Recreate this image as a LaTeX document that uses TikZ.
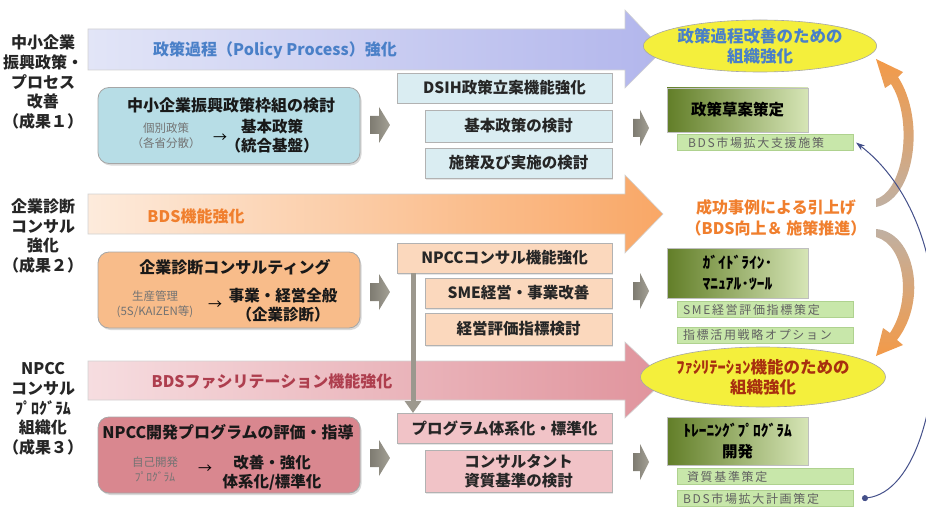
\documentclass[tikz,border=0pt]{standalone}
\usepackage{fontspec}
\setmainfont{Noto Sans CJK JP}
\usetikzlibrary{shapes.geometric,arrows.meta,shadows}
\definecolor{arAl}{HTML}{E2E5F7}
\definecolor{arAr}{HTML}{B2B6EC}
\definecolor{arBl}{HTML}{FDEBDC}
\definecolor{arBr}{HTML}{F9A766}
\definecolor{arCl}{HTML}{F6DDE0}
\definecolor{arCr}{HTML}{E0939C}
\definecolor{txA}{HTML}{4A80C8}
\definecolor{txB}{HTML}{F07F2E}
\definecolor{txC}{HTML}{AE3E4E}
\definecolor{boxA}{HTML}{B7DDE6}
\definecolor{boxB}{HTML}{F8BC8A}
\definecolor{boxC}{HTML}{D9878F}
\definecolor{midA}{HTML}{DAEDF2}
\definecolor{midB}{HTML}{FBD8BD}
\definecolor{midC}{HTML}{F1C3C7}
\definecolor{grD}{HTML}{627E28}
\definecolor{grL}{HTML}{D6E5B6}
\definecolor{barG}{HTML}{C8E7AA}
\definecolor{barE}{HTML}{AFD28F}
\definecolor{yel}{HTML}{F4EF3C}
\definecolor{grayA}{HTML}{7E7B71}
\definecolor{grayB}{HTML}{A3A095}
\definecolor{conn}{HTML}{9C988E}
\definecolor{orng}{HTML}{F39A48}
\definecolor{orgr}{HTML}{C0B0A2}
\definecolor{bluel}{HTML}{44508A}
\definecolor{elred}{HTML}{A8300F}
\begin{document}
\begin{tikzpicture}[x=1pt,y=-1pt,
  every node/.style={inner sep=0pt,outer sep=0pt},
  side/.style={font=\bfseries\fontsize{16}{19.8}\selectfont,text=black!85,align=center},
  band/.style={font=\bfseries\fontsize{16}{20}\selectfont},
  lbox/.style={rounded corners=11pt,draw=black!35,line width=0.8pt,minimum width=262pt,minimum height=76pt,
    drop shadow={shadow xshift=1.5pt,shadow yshift=-2pt,opacity=0.3}},
  ttl/.style={font=\bfseries\fontsize{16}{20}\selectfont,text=black!90},
  sm/.style={font=\fontsize{11.5}{15}\selectfont,text=black!55,align=center},
  big/.style={font=\bfseries\fontsize{15.5}{19}\selectfont,text=black!90,align=center},
  mbox/.style={draw=black!30,line width=0.6pt,minimum height=30pt,font=\bfseries\fontsize{15.5}{19}\selectfont,
    text=black!85,align=center,drop shadow={shadow xshift=1pt,shadow yshift=-1.5pt,opacity=0.2}},
  gbox/.style={draw=black!25,line width=0.6pt,left color=grD,right color=grL,minimum width=141pt,
    font=\bfseries\fontsize{15.5}{21}\selectfont,text=black,align=center},
  bar/.style={draw=barE,line width=0.5pt,fill=barG,minimum width=176pt,minimum height=16pt},
  bartx/.style={font=\fontsize{12}{14}\selectfont\addfontfeature{LetterSpace=14},text=black!62,anchor=west},
  ell/.style={ellipse,draw=black!35,line width=0.6pt,fill=yel,font=\bfseries\fontsize{16.5}{20}\selectfont,align=center},
  connline/.style={line width=5pt,draw=conn,-{Triangle[length=12pt,width=16pt]}},
  ]
\useasboundingbox (0,0) rectangle (926,508);
% side labels
\node[side] (s1) at (43,82) {中小企業\\振興政策・\\プロセス\\改善\\（成果１）};
\node[side] (s2) at (43,236) {企業診断\\コンサル\\強化\\（成果２）};
\node[side] (s3) at (43,409) {NPCC\\コンサル\\ﾌﾟﾛｸﾞﾗﾑ\\組織化\\（成果３）};
% big arrows
\shade[left color=arAl,right color=arAr,draw=black!18,line width=0.6pt]
  (88,29) -- (625,29) -- (625,10) -- (663,50) -- (625,88) -- (625,70) -- (88,70) -- cycle;
\shade[left color=arBl,right color=arBr,draw=black!18,line width=0.6pt]
  (88,194) -- (625,194) -- (625,175) -- (663,214) -- (625,253) -- (625,234) -- (88,234) -- cycle;
\shade[left color=arCl,right color=arCr,draw=black!18,line width=0.6pt]
  (88,361) -- (625,361) -- (625,342) -- (665,380) -- (625,418) -- (625,400) -- (88,400) -- cycle;
\node[band,text=txA] (t1) at (275,50) {政策過程（Policy Process）強化};
\node[band,text=txB] (t2) at (196,216) {BDS機能強化};
\node[band,text=txC] (t3) at (272,381) {BDSファシリテーション機能強化};
% left rounded boxes
\node[lbox,fill=boxA] (b1) at (229,125.5) {};
\node[ttl] (b1t) at (231,105) {中小企業振興政策枠組の検討};
\node[sm] (b1s) at (166,135.5) {個別政策\\（各省分散）};
\node[font=\fontsize{14}{14}\selectfont] (b1a) at (220,138) {→};
\node[big] (b1b) at (272,136.5) {基本政策\\（統合基盤）};
\node[lbox,fill=boxB] (b2) at (229,290) {};
\node[ttl] (b2t) at (235,267) {企業診断コンサルティング};
\node[sm] (b2s) at (155,304.5) {生産管理\\(5S/KAIZEN等)};
\node[font=\fontsize{14}{14}\selectfont] (b2a) at (215,305) {→};
\node[big] (b2b) at (283,305) {事業・経営全般\\（企業診断）};
\node[lbox,fill=boxC] (b3) at (229,455) {};
\node[ttl] (b3t) at (228,432) {NPCC開発プログラムの評価・指導};
\node[sm] (b3s) at (155,469.5) {自己開発\\ﾌﾟﾛｸﾞﾗﾑ};
\node[font=\fontsize{14}{14}\selectfont] (b3a) at (205,469) {→};
\node[big] (b3b) at (272,472.5) {改善・強化\\体系化/標準化};
% gray block arrows
\foreach \yc in {125,292,458} {
  \shade[left color=grayA,right color=grayB]
    (370,\yc-9) -- (379,\yc-9) -- (379,\yc-18) -- (390,\yc) -- (379,\yc+18) -- (379,\yc+9) -- (370,\yc+9) -- cycle;
}
\foreach \yc in {128,291,462} {
  \shade[left color=grayA,right color=grayB]
    (633,\yc-9) -- (640,\yc-9) -- (640,\yc-18) -- (649,\yc) -- (640,\yc+18) -- (640,\yc+9) -- (633,\yc+9) -- cycle;
}
% middle boxes
\node[mbox,fill=midA,minimum width=215pt] (m1) at (504.5,88) {DSIH政策立案機能強化};
\node[mbox,fill=midA,minimum width=187pt,minimum height=32pt] (m2) at (518.5,126) {基本政策の検討};
\node[mbox,fill=midA,minimum width=187pt] (m3) at (518.5,163) {施策及び実施の検討};
\node[mbox,fill=midB,minimum width=215pt] (n1) at (504.5,258) {NPCCコンサル機能強化};
\node[mbox,fill=midB,minimum width=187pt] (n2) at (518.5,293) {SME経営・事業改善};
\node[mbox,fill=midB,minimum width=187pt,minimum height=32pt] (n3) at (518.5,329) {経営評価指標検討};
\node[mbox,fill=midC,minimum width=215pt] (p1) at (504.5,428) {プログラム体系化・標準化};
\node[mbox,fill=midC,minimum width=187pt,minimum height=42pt] (p2) at (518.5,471) {コンサルタント\\資質基準の検討};
\draw[connline] ([xshift=16pt]n1.south west) -- ([xshift=16pt]p1.north west);
% right column
\node[ell,minimum width=194pt,minimum height=52pt,text=txA] (e1) at (760,46) {政策過程改善のための\\組織強化};
\node[gbox,minimum height=44pt] (g1) at (737.5,110) {政策草案策定};
\node[bar] (r1) at (765,142.5) {};
\node[bartx] (r1t) at ([xshift=11pt]r1.west) {BDS市場拡大支援施策};
\node[font=\bfseries\fontsize{16}{21}\selectfont,text=txB,align=center] (mid) at (776,217.5) {成功事例による引上げ\\（BDS向上＆ 施策推進）};
\node[gbox,minimum height=50pt] (g2) at (737.5,273) {ｶﾞｲﾄﾞﾗｲﾝ･\\ﾏﾆｭｱﾙ･ﾂｰﾙ};
\node[bar] (r2) at (765,309.5) {};
\node[bartx] (r2t) at ([xshift=6pt]r2.west) {SME経営評価指標策定};
\node[bar] (r3) at (765,335) {};
\node[bartx] (r3t) at ([xshift=6pt]r3.west) {指標活用戦略オプション};
\node[ell,minimum width=183pt,minimum height=60pt,text=elred] (e2) at (763,377) {ﾌｧｼﾘﾃｰｼｮﾝ機能のための\\組織強化};
\node[gbox,minimum height=48pt] (g3) at (737.5,441) {ﾄﾚｰﾆﾝｸﾞﾌﾟﾛｸﾞﾗﾑ\\開発};
\node[bar] (r4) at (765,476.5) {};
\node[bartx] (r4t) at ([xshift=10pt]r4.west) {資質基準策定};
\node[bar] (r5) at (765,498.5) {};
\node[bartx] (r5t) at ([xshift=6pt]r5.west) {BDS市場拡大計画策定};
% curved orange arrows
\shade[top color=orng,bottom color=orgr]
  (876,207) .. controls (915,200) and (926,120) .. (898,77) -- (903,72) -- (876,59) -- (885,88) -- (891,84)
  .. controls (913,118) and (905,190) .. (876,199) -- cycle;
\shade[top color=orgr,bottom color=orng]
  (876,229) .. controls (915,232) and (928,300) .. (897,340) -- (903,345) -- (876,356) -- (883,328) -- (890,333)
  .. controls (912,300) and (905,245) .. (876,237) -- cycle;
% blue feedback curve
\draw[line width=1pt,draw=bluel,{Circle[length=6pt]}-{Stealth[length=9pt,width=6pt]}]
  ([xshift=9pt]r5.east) .. controls (915,492) and (942,400) .. (934,300)
  .. controls (930,240) and (905,180) .. ([xshift=3pt]r1.east);
\end{tikzpicture}
\end{document}
